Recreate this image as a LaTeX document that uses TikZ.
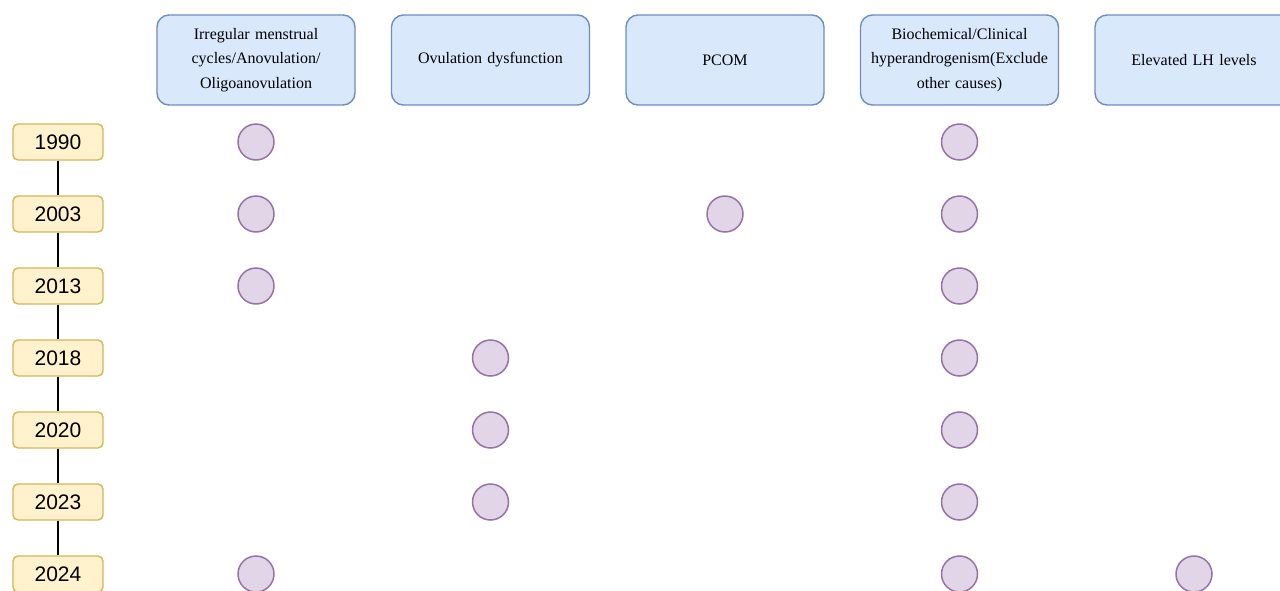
\documentclass[tikz,border=0pt]{standalone}
\usepackage{fontspec}
\setmainfont{Liberation Serif}
\newfontfamily\yearfont{Liberation Sans}
\usetikzlibrary{positioning}
\usepackage{xcolor}
\definecolor{critFill}{HTML}{DAE8FC}
\definecolor{critLine}{HTML}{6C8EBF}
\definecolor{yearFill}{HTML}{FFF2CC}
\definecolor{yearLine}{HTML}{D6B656}
\definecolor{hitFill}{HTML}{E1D5E7}
\definecolor{hitLine}{HTML}{9673A6}

\begin{document}
\begin{tikzpicture}[
    x=1pt, y=1pt,
    node distance=72pt,
    criterion/.style={draw=critLine, fill=critFill, line width=1.4pt, rounded corners=12pt,
        minimum width=198pt, minimum height=90pt, text width=190pt, align=center,
        font=\fontsize{16}{24.5}\selectfont},
    year/.style={draw=yearLine, fill=yearFill, line width=1.4pt, rounded corners=5pt,
        minimum width=90pt, minimum height=36pt, inner sep=0pt, font=\yearfont\fontsize{21}{24}\selectfont},
    hit/.style={circle, draw=hitLine, fill=hitFill, line width=1.5pt, minimum size=36pt, inner sep=0pt},
    every path/.style={line width=1.3pt}
]
    \useasboundingbox (0,0) rectangle (1280,-590);

    \node[year] (Y1990) at (58,-142) {1990};
    \node[year, below of=Y1990] (Y2003) {2003};
    \node[year, below of=Y2003] (Y2013) {2013};
    \node[year, below of=Y2013] (Y2018) {2018};
    \node[year, below of=Y2018] (Y2020) {2020};
    \node[year, below of=Y2020] (Y2023) {2023};
    \node[year, below of=Y2023] (Y2024) {2024};

    \node[criterion] (C1) at (256,-60) {Irregular menstrual\\cycles/Anovulation/\\Oligoanovulation};
    \node[criterion, right of=C1, node distance=234.5pt] (C2) {Ovulation dysfunction};
    \node[criterion, right of=C2, node distance=234.5pt] (C3) {PCOM};
    \node[criterion, right of=C3, node distance=234.5pt] (C4) {Biochemical/Clinical\\hyperandrogenism(Exclude\\other causes)};
    \node[criterion, right of=C4, node distance=234.5pt] (C5) {Elevated LH levels};

    \foreach \a/\b in {Y1990/Y2003, Y2003/Y2013, Y2013/Y2018, Y2018/Y2020, Y2020/Y2023, Y2023/Y2024}
        \draw (\a) -- (\b);

    \foreach \c/\y in {C1/Y1990, C4/Y1990,
                       C1/Y2003, C3/Y2003, C4/Y2003,
                       C1/Y2013, C4/Y2013,
                       C2/Y2018, C4/Y2018,
                       C2/Y2020, C4/Y2020,
                       C2/Y2023, C4/Y2023,
                       C1/Y2024, C4/Y2024, C5/Y2024}
        \node[hit] (\c-\y) at (\c |- \y) {};
\end{tikzpicture}
\end{document}
